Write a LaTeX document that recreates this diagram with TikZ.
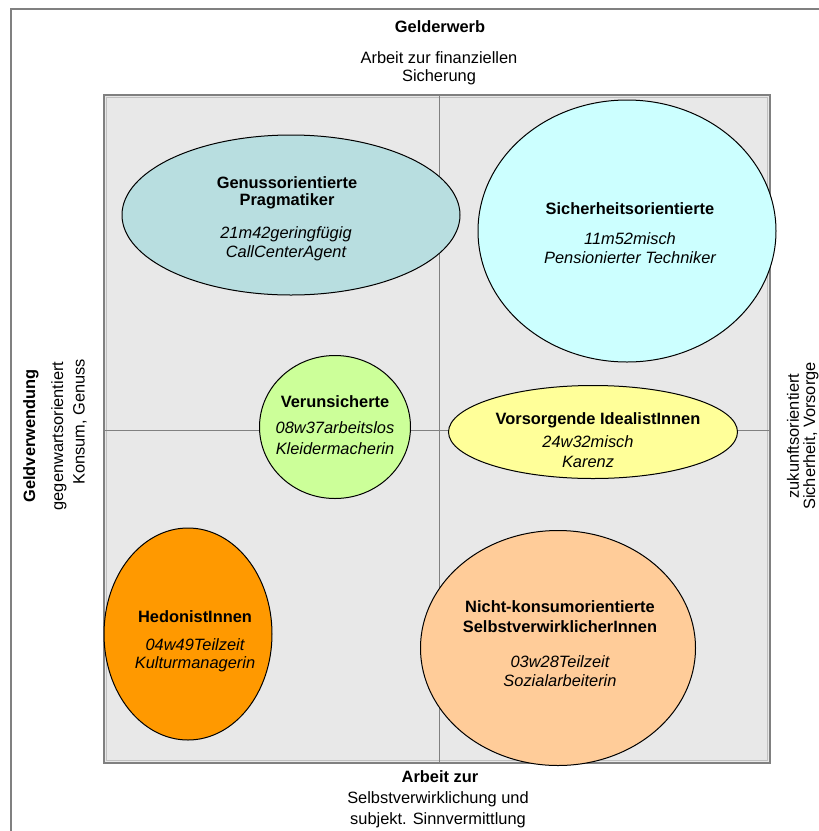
\documentclass[tikz,border=0pt]{standalone}
\usepackage{fontspec}
\setmainfont{Liberation Sans}
\usetikzlibrary{shapes.geometric}
\definecolor{framegray}{HTML}{808080}
\definecolor{lightline}{HTML}{C0C0C0}
\definecolor{boxfill}{HTML}{E8E8E8}
\definecolor{cTeal}{HTML}{B8DEE0}
\definecolor{cCyan}{HTML}{CCFFFF}
\definecolor{cGreen}{HTML}{CCFF99}
\definecolor{cYellow}{HTML}{FFFF99}
\definecolor{cOrange}{HTML}{FF9900}
\definecolor{cPeach}{HTML}{FFCC99}
\begin{document}
\begin{tikzpicture}[x=1pt,y=-1pt,
  ell/.style={ellipse, draw=black, line width=1pt, inner sep=0pt},
  lbl/.style={font=\fontsize{16.4}{19}\selectfont, inner sep=0pt, align=center},
  ttl/.style={inner sep=0pt, align=center, font=\fontsize{16.4}{19}\selectfont\bfseries},
  itl/.style={inner sep=0pt, align=center, font=\fontsize{16.4}{19}\selectfont\itshape}]
\clip (0,0) rectangle (819,831);
\fill[white] (0,0) rectangle (819,831);
% outer frame
\draw[framegray, line width=2pt] (11,845) -- (11,9) -- (835,9);
% quadrant box
\draw[fill=boxfill, draw=framegray, line width=2pt] (104,95) rectangle (770,763);
\draw[lightline, line width=0.8pt] (106.5,97.5) rectangle (767.5,760.5);
\draw[framegray, line width=1pt] (439,96) -- (439,762);
\draw[framegray, line width=1pt] (105,430) -- (769,430);
% ellipses
\node[ell, fill=cTeal, minimum width=338pt, minimum height=160pt] (e1) at (291,215) {};
\node[ell, fill=cCyan, minimum width=298pt, minimum height=262pt] (e2) at (627,231) {};
\node[ell, fill=cGreen, minimum width=151pt, minimum height=143pt] (e3) at (335,427) {};
\node[ell, fill=cYellow, minimum width=289pt, minimum height=93pt] (e4) at (593,432) {};
\node[ell, fill=cOrange, minimum width=168pt, minimum height=212pt] (e5) at (188,634) {};
\node[ell, fill=cPeach, minimum width=275pt, minimum height=235pt] (e6) at (558,648) {};
% ellipse texts
\node[ttl] (t1a) at (287,183) {Genussorientierte};
\node[ttl] (t1b) at (287,201) {Pragmatiker};
\node[itl] (t1c) at (286,234) {21m42geringfügig};
\node[itl] (t1d) at (286,253) {CallCenterAgent};
\node[ttl] (t2a) at (630,209) {Sicherheitsorientierte};
\node[itl] (t2b) at (630,239) {11m52misch};
\node[itl] (t2c) at (630,258) {Pensionierter Techniker};
\node[ttl] (t3a) at (335,402) {Verunsicherte};
\node[itl] (t3b) at (335,428) {08w37arbeitslos};
\node[itl] (t3c) at (335,449) {Kleidermacherin};
\node[ttl] (t4a) at (598,420) {Vorsorgende IdealistInnen};
\node[itl] (t4b) at (588,442) {24w32misch};
\node[itl] (t4c) at (588,462) {Karenz};
\node[ttl] (t5a) at (195,617) {HedonistInnen};
\node[itl] (t5b) at (195,645) {04w49Teilzeit};
\node[itl] (t5c) at (195,664) {Kulturmanagerin};
\node[ttl] (t6a) at (560,607) {Nicht-konsumorientierte};
\node[ttl] (t6b) at (560,627) {SelbstverwirklicherInnen};
\node[itl] (t6c) at (560,662) {03w28Teilzeit};
\node[itl] (t6d) at (560,681) {Sozialarbeiterin};
% axis labels
\node[ttl] (top1) at (440,27) {Gelderwerb};
\node[lbl] (top2) at (439,58) {Arbeit zur finanziellen};
\node[lbl] (top3) at (439,77) {Sicherung};
\node[ttl] (bot1) at (440,777) {Arbeit zur};
\node[lbl] (bot2) at (438,799) {Selbstverwirklichung und};
\node[lbl] (bot3) at (438,820) {subjekt. Sinnvermittlung};
\node[ttl, rotate=90] (lft1) at (31,436) {Geldverwendung};
\node[lbl, rotate=90] (lft2) at (59,436) {gegenwartsorientiert};
\node[lbl, rotate=90] (lft3) at (80,422) {Konsum, Genuss};
\node[lbl, rotate=90] (rgt1) at (793,436) {zukunftsorientiert};
\node[lbl, rotate=90] (rgt2) at (811,436) {Sicherheit, Vorsorge};
\end{tikzpicture}
\end{document}
